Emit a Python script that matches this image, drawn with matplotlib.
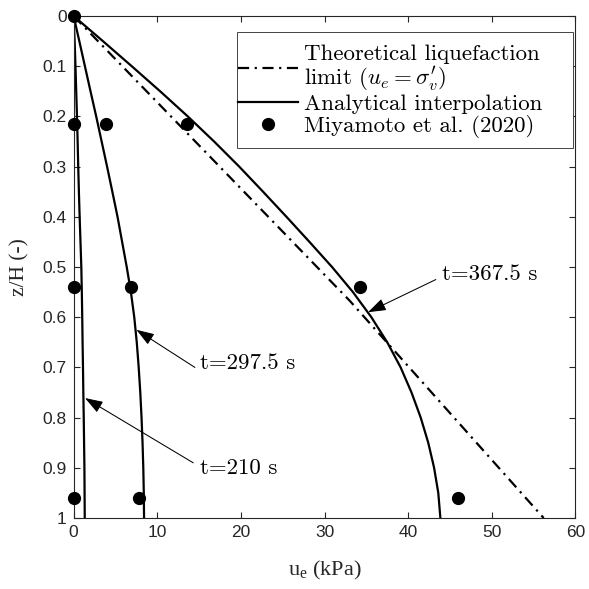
import matplotlib
matplotlib.use("Agg")
import matplotlib.pyplot as plt
from matplotlib.patches import Rectangle

plt.rcParams['mathtext.fontset'] = 'cm'

# profondeur normalisee des courbes analytiques
z_curve = [0, 0.05, 0.1, 0.15, 0.2, 0.25, 0.3, 0.35, 0.4, 0.45, 0.5, 0.55, 0.6, 0.65, 0.7, 0.75, 0.8, 0.85, 0.9, 0.95, 1.0]
u_210 = [0, 0.12, 0.22, 0.31, 0.4, 0.48, 0.55, 0.63, 0.72, 0.82, 0.92, 0.98, 1.03, 1.07, 1.12, 1.16, 1.21, 1.25, 1.29, 1.31, 1.33]
u_297 = [0, 0.68, 1.35, 2.02, 2.7, 3.35, 4.0, 4.63, 5.25, 5.8, 6.35, 6.85, 7.25, 7.55, 7.78, 7.97, 8.12, 8.24, 8.33, 8.39, 8.42]
u_367 = [0, 3.5, 6.95, 10.35, 13.65, 16.8, 19.8, 22.65, 25.45, 28.2, 30.9, 33.4, 35.6, 37.5, 39.1, 40.4, 41.5, 42.4, 43.1, 43.6, 43.85]

# limite theorique u_e = sigma'_v
z_lim = [0, 0.567, 1.0]
u_lim = [0, 33.0, 56.2]

# points experimentaux Miyamoto et al. (2020)
z_exp = [0, 0.215, 0.539, 0.96, 0.215, 0.539, 0.96, 0.215, 0.539, 0.96]
u_exp = [0, 0, 0, 0, 3.83, 6.82, 7.81, 13.55, 34.2, 45.9]

labels_t = ['t=367.5 s', 't=297.5 s', 't=210 s']
arrow_head = [(35.2, 0.59), (7.5, 0.625), (1.36, 0.761)]
arrow_tail = [(43.3, 0.525), (14.5, 0.70), (14.3, 0.89)]
text_pos = [(44.0, 0.515), (15.1, 0.691), (15.1, 0.90)]

fig = plt.figure(figsize=(5.89, 5.89), dpi=100)
ax = fig.add_axes([0.125, 0.1205, 0.852, 0.8523])

grey = (0.15, 0.15, 0.15)
cm_font = 'cmr10'

ax.plot(u_lim, z_lim, color='k', lw=1.6, linestyle=(0, (5, 2.5, 1, 2.5)),
        label="Theoretical liquefaction\nlimit ($u_e = \\sigma_v^{\\prime}$)")
ax.plot(u_367, z_curve, color='k', lw=1.6, label='Analytical interpolation')
ax.plot(u_297, z_curve, color='k', lw=1.6)
ax.plot(u_210, z_curve, color='k', lw=1.6)
ax.plot(u_exp, z_exp, 'o', color='k', markersize=8.5, clip_on=False, zorder=5,
        label='Miyamoto et al. (2020)')

for lab, head, tail, pos in zip(labels_t, arrow_head, arrow_tail, text_pos):
    ax.annotate('', xy=head, xytext=tail,
                arrowprops=dict(arrowstyle='-|>,head_length=1.1,head_width=0.38',
                                color='k', lw=0.75, shrinkA=0, shrinkB=0))
    ax.text(pos[0], pos[1], lab, family=cm_font, fontsize=16.5,
            ha='left', va='center')

ax.set_xlim(0, 60)
ax.set_ylim(1, 0)
ax.set_xticks(range(0, 61, 10))
ax.set_yticks([i / 10 for i in range(11)])
ax.set_yticklabels(['0', '0.1', '0.2', '0.3', '0.4', '0.5', '0.6', '0.7', '0.8', '0.9', '1'])

for s in ax.spines.values():
    s.set_color(grey)
    s.set_linewidth(0.8)
ax.tick_params(direction='in', top=True, right=True, length=4, width=0.8,
               colors=grey, labelsize=12.5, pad=5)
for t in ax.get_xticklabels() + ax.get_yticklabels():
    t.set_family('Liberation Sans')

ax.set_xlabel(r'$\mathregular{u_e}$ (kPa)', family='Liberation Serif', fontsize=16,
              color=grey, labelpad=14)
ax.set_ylabel('z/H (-)', family='Liberation Serif', fontsize=15.5, color=grey, labelpad=9)

# cadre de legende a la maniere de matlab (marge a droite plus large)
frame = Rectangle((0.3256, 0.7368), 0.6694, 0.2308, transform=ax.transAxes,
                  facecolor='white', edgecolor=grey, lw=0.6, zorder=6)
ax.add_patch(frame)
leg = ax.legend(loc='upper left', bbox_to_anchor=(0.3285, 0.943), borderaxespad=0,
                prop={'family': cm_font, 'size': 16.5}, frameon=False,
                borderpad=0, labelspacing=0.05, handlelength=2.6, handletextpad=0.25)
leg.set_zorder(7)
for t in leg.get_texts():
    t.set_linespacing(1.0)

fig.savefig('out.png', dpi=100)
